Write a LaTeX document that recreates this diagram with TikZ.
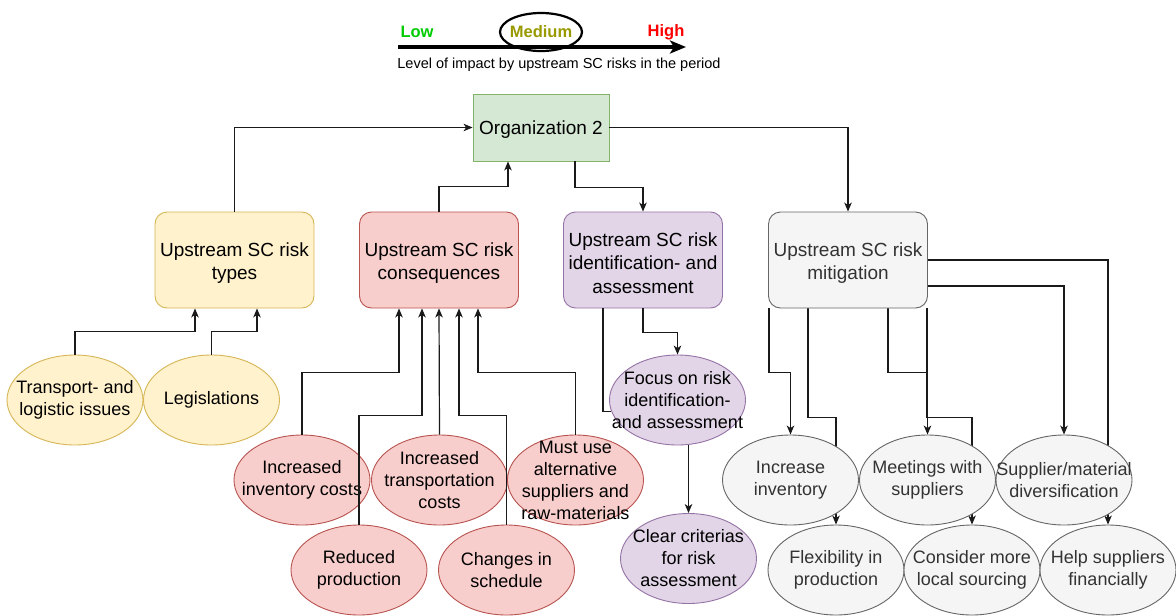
\documentclass[tikz,border=0pt]{standalone}
\usepackage{fontspec}
\setmainfont{Liberation Sans}
\usetikzlibrary{shapes.geometric,arrows.meta,calc}
\pgfdeclarelayer{back}
\pgfdeclarelayer{bg}
\pgfsetlayers{back,bg,main}

\definecolor{yfill}{HTML}{FFF2CC}\definecolor{yline}{HTML}{D6B656}
\definecolor{rfill}{HTML}{F8CECC}\definecolor{rline}{HTML}{B85450}
\definecolor{pfill}{HTML}{E1D5E7}\definecolor{pline}{HTML}{9673A6}
\definecolor{gfill}{HTML}{D5E8D4}\definecolor{gline}{HTML}{82B366}
\definecolor{sfill}{HTML}{F5F5F5}\definecolor{sline}{HTML}{666666}
\definecolor{stext}{HTML}{333333}
\definecolor{lowc}{HTML}{00CC00}
\definecolor{medc}{HTML}{999900}
\definecolor{highc}{HTML}{FF0000}
\definecolor{edge}{HTML}{1A1A1A}

\tikzset{
  box/.style={draw, rounded corners=12pt, minimum width=159pt, minimum height=96pt,
    align=center, inner sep=2pt, line width=0.9pt, font=\fontsize{19}{23.5}\selectfont},
  orgbox/.style={draw, sharp corners, minimum width=136pt, minimum height=67pt,
    inner sep=0pt, line width=0.9pt, fill=gfill, draw=gline, font=\fontsize{19.5}{23.5}\selectfont},
  oval/.style={ellipse, draw, minimum width=136pt, minimum height=90pt, inner sep=0pt, line width=0.9pt},
  ltext/.style={align=center, inner sep=0pt, font=\fontsize{18}{22}\selectfont},
  boxtext/.style={align=center, inner sep=0pt, font=\fontsize{19}{23.5}\selectfont, yshift=-3pt},
  yel/.style={fill=yfill, draw=yline},
  rd/.style={fill=rfill, draw=rline},
  pur/.style={fill=pfill, draw=pline},
  gry/.style={fill=sfill, draw=sline, text=stext},
  link/.style={draw=edge, line width=1.2pt, -{Stealth[length=9pt,width=7.5pt,inset=2.5pt]}},
  plainlink/.style={draw=edge, line width=1.2pt},
  scalefont/.style={font=\bfseries\fontsize{16.5}{18}\selectfont},
}

\begin{document}
\begin{tikzpicture}[x=1pt,y=-1pt]
\begin{pgfonlayer}{back}
  \fill[white] (0,0) rectangle (1176,616);
\end{pgfonlayer}
\useasboundingbox (0,0) rectangle (1176,616);

% impact scale
\coordinate (scaleL) at (398,47);
\coordinate (scaleR) at (686,47);
\draw[line width=3.3pt, -{Stealth[length=16pt,width=13pt,inset=4pt]}] (scaleL) -- (scaleR);
\node[scalefont, text=lowc] (low) at (417,32) {Low};
\node[ellipse, draw, line width=2.2pt, minimum width=82pt, minimum height=38pt, inner sep=0pt,
      label={[scalefont, text=medc, inner sep=0pt]center:Medium}] (med) at (541,32) {};
\node[scalefont, text=highc] (high) at (666,32) {High};
\node[font=\fontsize{14.5}{16}\selectfont] (caption) at (559,65) {Level of impact by upstream SC risks in the period};

% central organisation and the four themes
\node[orgbox, label={[boxtext, yshift=1pt]center:Organization 2}] (org) at (541,127.5) {};
\node[box, yel, label={[boxtext]center:Upstream SC risk\\types}] (types) at (234.5,260) {};
\node[box, rd, label={[boxtext]center:Upstream SC risk\\consequences}] (cons) at (439,260) {};
\node[box, pur, label={[boxtext]center:Upstream SC risk\\identification- and\\assessment}] (ident) at (643,260) {};
\node[box, gry, label={[boxtext, text=stext]center:Upstream SC risk\\mitigation}] (mit) at (848,260) {};

% risk types
\node[oval, yel, label={[ltext]center:Transport- and\\logistic issues}] (tr) at (75,400) {};
\node[oval, yel, label={[ltext]center:Legislations}] (leg) at (211.5,400) {};

% consequences
\node[oval, rd, label={[ltext]center:Increased\\inventory costs}] (inv) at (302,480) {};
\node[oval, rd, label={[ltext]center:Increased\\transportation\\costs}] (trans) at (439.5,480) {};
\node[oval, rd, label={[ltext]center:Must use\\alternative\\suppliers and\\raw-materials}] (must) at (575.5,480) {};
\node[oval, rd, label={[ltext]center:Reduced\\production}] (redu) at (359,570) {};
\node[oval, rd, label={[ltext]center:Changes in\\schedule}] (chg) at (506.5,570) {};

% identification and assessment
\node[oval, pur, label={[ltext]center:Focus on risk\\identification-\\and assessment}] (focus) at (677.5,400) {};
\node[oval, pur, label={[ltext]center:Clear criterias\\for risk\\assessment}] (clear) at (688.5,558.5) {};

% mitigation
\node[oval, gry, label={[ltext, text=stext]center:Increase\\inventory}] (inc) at (790.5,480) {};
\node[oval, gry, label={[ltext, text=stext]center:Meetings with\\suppliers}] (meet) at (927.5,480) {};
\node[oval, gry, label={[ltext, text=stext]center:Supplier/material\\diversification}] (sup) at (1064,480) {};
\node[oval, gry, label={[ltext, text=stext]center:Flexibility in\\production}] (flex) at (836,570) {};
\node[oval, gry, label={[ltext, text=stext]center:Consider more\\local sourcing}] (local) at (972,570) {};
\node[oval, gry, label={[ltext, text=stext]center:Help suppliers\\financially}] (help) at (1108,570) {};

% organisation links
\draw[link] (types.north) |- (org.west);
\draw[link] (cons.north) -- ++(0,-25) -| ([xshift=-33pt]org.south);
\draw[link] ([xshift=34pt]org.south) -- ++(0,26) -| (ident.north);
\draw[link] (org.east) -| (mit.north);

% risk types links
\draw[link] (tr.north) -- ++(0,-23) -| ([xshift=-39.5pt]types.south);
\draw[link] (leg.north) -- ++(0,-23) -| ([xshift=22.5pt]types.south);

% consequence links
\draw[link] (inv.north) -- ++(0,-62) -| ([xshift=-40pt]cons.south);
\draw[link] (redu.north) -- ++(0,-109) -| ([xshift=-17pt]cons.south);
\draw[link] (trans.north) -- (cons.south);
\draw[link] (chg.north) -- ++(0,-109) -| ([xshift=20pt]cons.south);
\draw[link] (must.north) -- ++(0,-62) -| ([xshift=39pt]cons.south);

% identification links
\draw[link] (ident.south) -- ++(0,24) -| (focus.north);
\draw[plainlink] ([xshift=-40pt]ident.south) |- (focus.190);
\draw[link] (focus.south -| clear.north) -- (clear.north);

% mitigation links, kept behind the ovals
\begin{pgfonlayer}{bg}
\draw[link] ([xshift=-79pt]mit.south) -- ++(0,64) -| (inc.north);
\draw[link] ([xshift=-40pt]mit.south) -- ++(0,109) -| (flex.north);
\draw[link] ([xshift=40pt]mit.south) -- ++(0,64) -| (meet.north);
\draw[link] ([xshift=79pt]mit.south) -- ++(0,109) -| (local.north);
\draw[link] ([yshift=-26pt]mit.east) -| (sup.north);
\draw[link] (mit.east) -| (help.north);
\end{pgfonlayer}
\end{tikzpicture}
\end{document}
